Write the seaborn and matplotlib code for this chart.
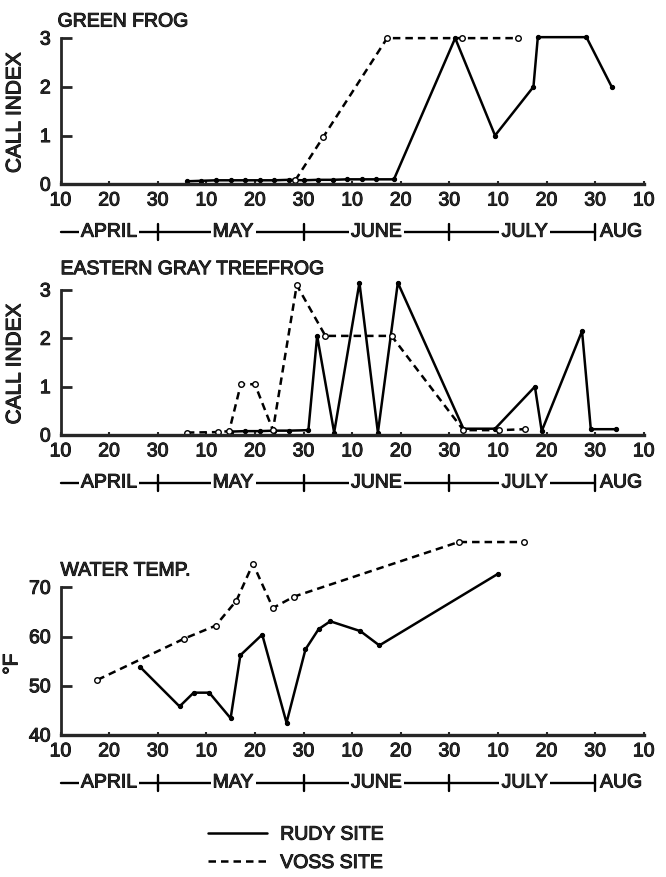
import matplotlib
matplotlib.use('Agg')
import matplotlib.pyplot as plt
import matplotlib.patheffects as pe
from matplotlib.lines import Line2D
import seaborn as sns

# x = days after 10 April, one tick every 10 days
tick_pos = [0, 10, 20, 30, 40, 50, 60, 70, 80, 90, 100, 110, 120]
tick_lab = ['10', '20', '30'] * 4 + ['10']
months = ['APRIL', 'MAY', 'JUNE', 'JULY', 'AUG']
month_pos = [10, 35.5, 65, 95.5, 111]
month_ends = [20, 50, 80, 110]

# green frog call index
gf_rudy_x = [26, 29, 32, 35, 38, 41, 44, 47, 50, 53, 56, 59, 62, 65, 68.6, 81.2, 89.4, 97.3, 98.2, 108.2, 113.4]
gf_rudy_y = [0.06, 0.07, 0.08, 0.08, 0.08, 0.08, 0.08, 0.09, 0.08, 0.09, 0.09, 0.1, 0.1, 0.1, 0.1, 3.0, 1.0, 2.0, 3.02, 3.02, 2.0]
gf_voss_x = [48.3, 54.0, 67.2, 82.5, 94.1]
gf_voss_y = [0.08, 0.96, 3.0, 3.0, 3.0]

# eastern gray treefrog call index
gt_rudy_x = [35, 38, 41, 44, 47, 51, 52.8, 56.3, 61.5, 65.3, 69.4, 82.9, 89.4, 97.6, 99.0, 107.3, 109.1, 114.3]
gt_rudy_y = [0.07, 0.08, 0.08, 0.09, 0.09, 0.1, 2.05, 0.05, 3.15, 0.05, 3.15, 0.13, 0.13, 1.0, 0.08, 2.15, 0.12, 0.12]
gt_voss_x = [26, 32.4, 34.7, 37.1, 40.0, 43.7, 48.6, 54.5, 68.1, 82.9, 90.3, 95.5]
gt_voss_y = [0.05, 0.06, 0.08, 1.05, 1.05, 0.1, 3.1, 2.05, 2.05, 0.1, 0.1, 0.12]

# water temperature (F)
wt_rudy_x = [16.4, 24.5, 27.4, 30.6, 35.0, 37.0, 41.5, 46.5, 50.4, 53.1, 55.5, 61.7, 65.6, 90.1]
wt_rudy_y = [53.8, 45.8, 48.6, 48.6, 43.4, 56.2, 60.4, 42.5, 57.4, 61.5, 63.1, 61.1, 58.2, 72.8]
wt_voss_x = [7.6, 25.5, 31.9, 36.2, 39.6, 43.7, 48.0, 81.9, 95.3]
wt_voss_y = [51.2, 59.6, 62.2, 67.3, 74.8, 65.8, 68.1, 79.2, 79.2]

sns.set_style('ticks')
plt.rcParams['font.family'] = ['Liberation Sans', 'DejaVu Sans']
plt.rcParams['axes.linewidth'] = 2.0

W, H = 666, 877
fig = plt.figure(figsize=(W / 100, H / 100), dpi=100)

dash = (0, (3, 2))
bold = [pe.withStroke(linewidth=0.7, foreground='black')]   # scan look, a bit heavier text
x0_px, w_px = 60.5, 593


def add_ax(y0_px, h_px):
    return fig.add_axes([x0_px / W, 1 - y0_px / H, w_px / W, h_px / H])


def month_row(ax, h_px):
    y = -48 / h_px
    dy = 8 / h_px
    tr = ax.get_xaxis_transform()
    ax.plot([0, 110], [y, y], color='black', lw=1.7, transform=tr, clip_on=False)
    for m in month_ends:
        ax.plot([m, m], [y - dy, y + dy], color='black', lw=1.7, transform=tr, clip_on=False)
    for name, p in zip(months, month_pos):
        ha = 'left' if name == 'AUG' else 'center'
        ax.text(p, y, name, ha=ha, va='center', fontsize=14, transform=tr, path_effects=bold,
                bbox=dict(facecolor='white', edgecolor='none', pad=1.5))


def style(ax, ylim, yticks, h_px):
    ax.set_xlim(0, 122)
    ax.set_ylim(*ylim)
    ax.set_xticks(tick_pos)
    ax.set_xticklabels(tick_lab)
    ax.set_yticks(yticks)
    ax.spines['left'].set_bounds(yticks[0], yticks[-1])
    ax.spines['bottom'].set_bounds(0, 120)
    ax.spines['bottom'].set_linewidth(2.4)
    sns.despine(ax=ax)
    ax.tick_params(axis='y', direction='in', length=8, width=2, labelsize=14, pad=7)
    ax.tick_params(axis='x', direction='in', length=2.5, width=1.5, labelsize=14, pad=6)
    for t in ax.get_xticklabels() + ax.get_yticklabels():
        t.set_path_effects(bold)
    ax.set_xlabel('')
    month_row(ax, h_px)


def draw(ax, rx, ry, vx, vy):
    sns.lineplot(x=rx, y=ry, ax=ax, color='black', linewidth=1.8, marker='o',
                 markersize=3.0, mfc='black', mec='black', mew=0.8, clip_on=False)
    sns.lineplot(x=vx, y=vy, ax=ax, color='black', linewidth=1.8, linestyle=dash,
                 marker='o', markersize=4, mfc='white', mec='black', mew=1.0, clip_on=False)


# panel 1
h1 = 155.8
ax1 = add_ax(184.2, h1)
draw(ax1, gf_rudy_x, gf_rudy_y, gf_voss_x, gf_voss_y)
style(ax1, (0, 3.2), [0, 1, 2, 3], h1)
ax1.text(-0.6, 3.33, 'GREEN FROG', fontsize=14, va='center', ha='left', path_effects=bold)
ax1.set_ylabel('CALL INDEX', fontsize=15, path_effects=bold)
ax1.yaxis.set_label_coords(-0.061, 0.46)

# panel 2
h2 = 154.7
ax2 = add_ax(435, h2)
draw(ax2, gt_rudy_x, gt_rudy_y, gt_voss_x, gt_voss_y)
style(ax2, (0, 3.2), [0, 1, 2, 3], h2)
ax2.text(0, 3.42, 'EASTERN GRAY TREEFROG', fontsize=14, va='center', ha='left', path_effects=bold)
ax2.set_ylabel('CALL INDEX', fontsize=15, path_effects=bold)
ax2.yaxis.set_label_coords(-0.061, 0.46)

# panel 3
h3 = 196.9
ax3 = add_ax(735, h3)
draw(ax3, wt_rudy_x, wt_rudy_y, wt_voss_x, wt_voss_y)
style(ax3, (40, 80), [40, 50, 60, 70], h3)
ax3.text(0, 73.3, 'WATER TEMP.', fontsize=14, va='center', ha='left', path_effects=bold)
ax3.set_ylabel('°F', fontsize=15, path_effects=bold)
ax3.yaxis.set_label_coords(-0.066, 0.36)

handles = [Line2D([], [], color='black', lw=1.8),
           Line2D([], [], color='black', lw=1.8, linestyle=dash)]
leg = fig.legend(handles, ['RUDY SITE', 'VOSS SITE'], loc='center', frameon=False,
                 bbox_to_anchor=(296 / W, 1 - 849 / H), fontsize=14, handlelength=3.0,
                 handletextpad=0.7, labelspacing=0.55)
for t in leg.get_texts():
    t.set_path_effects(bold)

fig.savefig('out.png', dpi=100)
